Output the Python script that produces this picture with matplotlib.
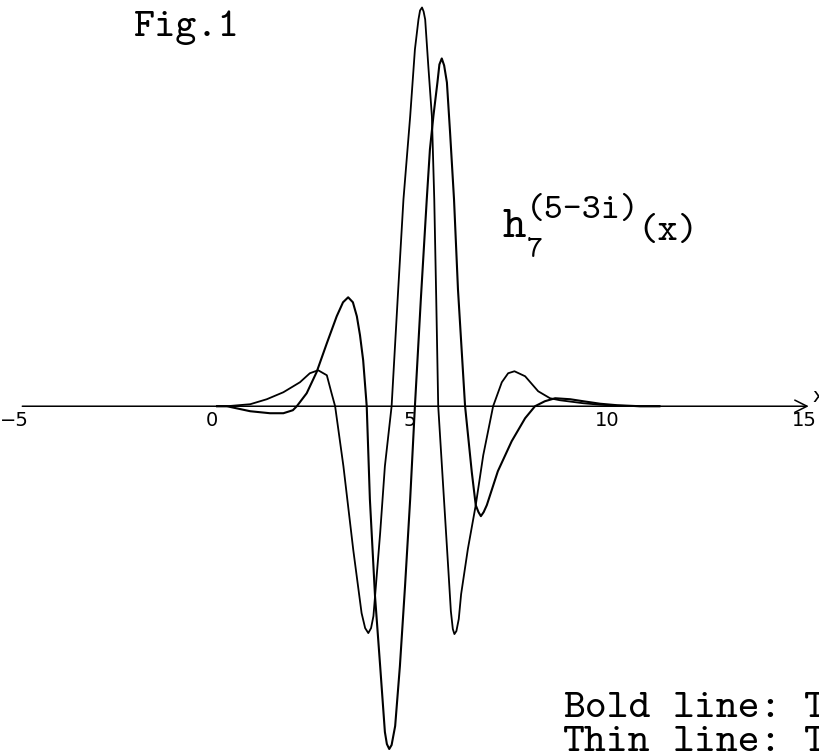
import matplotlib.pyplot as plt

# curve with the deepest trough
x_a = [0.00, 0.25, 0.84, 1.34, 1.68, 1.92, 2.02, 2.27, 2.52, 2.78, 3.03, 3.19,
       3.32, 3.44, 3.54, 3.62, 3.70, 3.79, 3.87, 4.00, 4.13, 4.25, 4.30, 4.36,
       4.42, 4.51, 4.63, 4.76, 4.89, 5.01, 5.16, 5.31, 5.39, 5.48, 5.58, 5.63,
       5.69, 5.75, 5.82, 5.90, 6.00, 6.10, 6.28, 6.45, 6.55, 6.62, 6.68, 6.75,
       6.83, 7.11, 7.46, 7.80, 8.05, 8.30, 8.56, 8.94, 9.27, 9.70, 10.13, 10.71,
       11.20]
y_a = [0.00, 0.00, -0.05, -0.07, -0.07, -0.04, 0.00, 0.13, 0.34, 0.63, 0.90, 1.04,
       1.09, 1.04, 0.90, 0.71, 0.46, 0.00, -0.93, -1.90, -2.60, -3.26, -3.38, -3.43,
       -3.39, -3.20, -2.60, -1.80, -0.93, 0.00, 1.07, 2.07, 2.57, 2.91, 3.24, 3.42,
       3.48, 3.41, 3.24, 2.74, 2.07, 1.17, 0.00, -0.66, -0.99, -1.06, -1.10, -1.06,
       -0.99, -0.65, -0.35, -0.12, 0.00, 0.05, 0.08, 0.07, 0.05, 0.025, 0.01, 0.00,
       0.00]

# curve with the tallest peak
x_b = [0.00, 0.25, 0.84, 1.26, 1.68, 2.10, 2.35, 2.56, 2.78, 2.90, 2.99, 3.20,
       3.45, 3.66, 3.75, 3.83, 3.90, 3.96, 4.13, 4.25, 4.42, 4.58, 4.72, 4.89,
       5.01, 5.10, 5.14, 5.19, 5.23, 5.27, 5.35, 5.44, 5.50, 5.55, 5.60, 5.73,
       5.86, 5.92, 5.97, 6.01, 6.06, 6.12, 6.18, 6.35, 6.55, 6.74, 6.99, 7.21,
       7.37, 7.53, 7.80, 8.13, 8.43, 8.68, 9.27, 9.70, 10.13, 10.71, 11.20]
y_b = [0.00, 0.00, 0.02, 0.07, 0.14, 0.24, 0.33, 0.36, 0.31, 0.13, 0.00, -0.60,
       -1.44, -2.07, -2.22, -2.27, -2.22, -2.10, -1.27, -0.60, 0.00, 1.12, 2.07, 2.90,
       3.57, 3.87, 3.96, 3.99, 3.95, 3.87, 3.40, 2.90, 2.07, 1.07, 0.00, -0.83,
       -1.66, -2.05, -2.23, -2.28, -2.25, -2.13, -1.88, -1.43, -0.99, -0.49, 0.00, 0.24,
       0.33, 0.35, 0.30, 0.15, 0.08, 0.06, 0.03, 0.015, 0.005, 0.00, 0.00]

tick_pos = [-5, 0, 5, 10, 15]
tick_lab = ["\u22125", "0", "5", "10", "15"]

W, H = 819, 754
fig = plt.figure(figsize=(W / 100, H / 100), dpi=100)
ax = fig.add_axes([0, 0, 1, 1])
ax.set_xlim(-5.494, 15.24)
ax.set_ylim(-3.48, 4.065)
ax.axis("off")

ax.annotate("", xy=(15.05, 0), xytext=(-5, 0),
            arrowprops=dict(arrowstyle="->", lw=1.1, color="black", mutation_scale=22))
ax.plot(x_a, y_a, color="black", lw=1.5, solid_joinstyle="round")
ax.plot(x_b, y_b, color="black", lw=1.3, solid_joinstyle="round")

for t, lab in zip(tick_pos, tick_lab):
    ax.text(t - 0.12, -0.14, lab, ha="center", va="center", fontsize=14,
            family="DejaVu Sans")
ax.text(15.08, 0.1, "x", ha="left", va="center", fontsize=14, family="DejaVu Sans")

# typewriter text: cmtt10 (advance 0.525 em); words placed one by one
tt = ["cmtt10", "DejaVu Sans Mono"]


def typed(x_px, y_px, s, size):
    adv = 0.525 * size * 100 / 72
    col = 0
    for word in s.split(" "):
        fig.text((x_px + col * adv) / W, 1 - y_px / H, word, fontsize=size,
                 family=tt, va="baseline")
        col += len(word) + 1


typed(134, 36, "Fig.1", 29)

# h_7^{(5-3i)}(x), typed as separate pieces like the original
typed(503, 237, "h", 32)
typed(527, 257, "7", 22)
typed(526, 218, "(5-3i)", 26)
typed(637, 240, "(x)", 28)

typed(563, 717, "Bold line: T", 30)
typed(563, 751, "Thin line: T", 30)

fig.savefig("out.png", dpi=100)
